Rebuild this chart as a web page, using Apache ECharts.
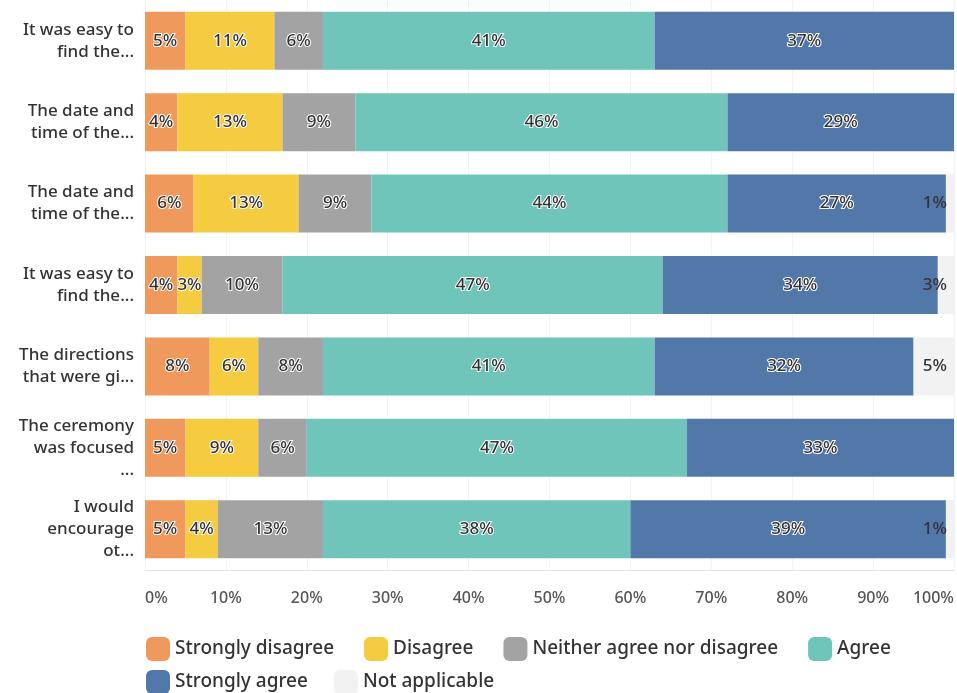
<!DOCTYPE html>
<html>
<head>
<meta charset="utf-8">
<script src="https://cdn.jsdelivr.net/npm/echarts@6/dist/echarts.min.js"></script>
<style>
html,body{margin:0;padding:0;background:#fff;}
#chart{width:957px;height:693px;}
</style>
</head>
<body>
<div id="chart"></div>
<script>
const categories = [
  "It was easy to\nfind the...",
  "The date and\ntime of the...",
  "The date and\ntime of the...",
  "It was easy to\nfind the...",
  "The directions\nthat were gi...",
  "The ceremony\nwas focused\n...",
  "I would\nencourage\not..."
];
const seriesNames = ["Strongly disagree", "Disagree", "Neither agree nor disagree", "Agree", "Strongly agree", "Not applicable"];
const stronglyDisagree = [5, 4, 6, 4, 8, 5, 5];
const disagree = [11, 13, 13, 3, 6, 9, 4];
const neither = [6, 9, 9, 10, 8, 6, 13];
const agree = [41, 46, 44, 47, 41, 47, 38];
const stronglyAgree = [37, 29, 27, 34, 32, 33, 39];
const notApplicable = [0, 0, 1, 3, 5, 0, 1];
const xTicks = [0, 10, 20, 30, 40, 50, 60, 70, 80, 90, 100];

const colors = ["#F0995C", "#F5CB3F", "#A3A3A3", "#6FC5B9", "#5278AA", "#F2F2F2"];
const values = [stronglyDisagree, disagree, neither, agree, stronglyAgree, notApplicable];
const FONT = "Noto Sans";

const series = seriesNames.map((name, i) => ({
  name: name,
  type: "bar",
  stack: "total",
  barWidth: 58,
  data: values[i],
  itemStyle: { color: colors[i] },
  label: {
    show: true,
    position: i === 5 ? "insideRight" : "inside",
    distance: 7,
    fontFamily: FONT,
    fontSize: 17,
    fontWeight: 500,
    color: "#333",
    textBorderColor: i === 5 ? "transparent" : "#fff",
    textBorderWidth: i === 5 ? 0 : 2,
    formatter: p => p.value > 0 ? p.value + "%" : ""
  },
  emphasis: { disabled: true }
}));

const chart = echarts.init(document.getElementById("chart"), null, { renderer: "canvas" });
chart.setOption({
  backgroundColor: "#fff",
  animation: false,
  color: colors,
  grid: { left: 145, right: 2, top: 0, height: 570, containLabel: false },
  xAxis: {
    type: "value",
    min: xTicks[0],
    max: xTicks[xTicks.length - 1],
    interval: 10,
    axisLine: { show: true, lineStyle: { color: "#e2e2e2" } },
    axisTick: { show: false },
    splitLine: { show: true, lineStyle: { color: "#f3f3f3" } },
    axisLabel: {
      formatter: "{value}%",
      fontFamily: FONT,
      fontSize: 16,
      fontWeight: 500,
      color: "#555",
      margin: 20,
      alignMinLabel: "left",
      alignMaxLabel: "right"
    }
  },
  yAxis: {
    type: "category",
    inverse: true,
    data: categories,
    axisLine: { show: false },
    axisTick: { show: false },
    axisLabel: {
      fontFamily: FONT,
      fontSize: 17,
      fontWeight: 500,
      color: "#333",
      align: "right",
      margin: 11,
      lineHeight: 22
    }
  },
  legend: [
    {
      data: seriesNames.slice(0, 4),
      left: 141,
      top: 632,
      icon: "roundRect",
      itemWidth: 24,
      itemHeight: 24,
      itemGap: 30,
      selectedMode: false,
      textStyle: { fontFamily: FONT, fontSize: 19, fontWeight: 500, color: "#333", padding: [0, 0, 0, 0] }
    },
    {
      data: seriesNames.slice(4),
      left: 141,
      top: 665,
      icon: "roundRect",
      itemWidth: 24,
      itemHeight: 24,
      itemGap: 26,
      selectedMode: false,
      textStyle: { fontFamily: FONT, fontSize: 19, fontWeight: 500, color: "#333", padding: [0, 0, 0, 0] }
    }
  ],
  series: series
});
</script>
</body>
</html>
